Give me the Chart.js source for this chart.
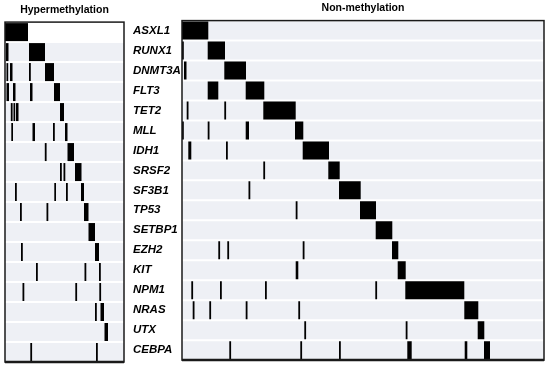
<!DOCTYPE html>
<html>
<head>
<meta charset="utf-8">
<script src="https://cdn.jsdelivr.net/npm/chart.js@4.4.1/dist/chart.umd.min.js"></script>
<style>
  html, body { margin: 0; padding: 0; background: #fff; }
  #wrap { position: relative; width: 550px; height: 367px; }
  canvas { position: absolute; top: 0; }
  #hyper { left: 0; }
  #non { left: 128px; }
</style>
</head>
<body>
<div id="wrap">
  <canvas id="hyper" width="128" height="367"></canvas>
  <canvas id="non" width="422" height="367"></canvas>
</div>
<script>
// genes, top to bottom
const genes = ['ASXL1', 'RUNX1', 'DNMT3A', 'FLT3', 'TET2', 'MLL', 'IDH1', 'SRSF2',
  'SF3B1', 'TP53', 'SETBP1', 'EZH2', 'KIT', 'NPM1', 'NRAS', 'UTX', 'CEBPA'];

// patient axis length for each group
const hyperSpan = 119;
const nonSpan = 362;

// mutated patient ranges [from, to] per gene, hypermethylation group
const hyperMutations = [
  [[0, 23]],
  [[1, 3.5], [24, 40]],
  [[1.5, 3.2], [5, 7.5], [24, 25.8], [40, 49]],
  [[1.5, 4], [8, 10.5], [25, 27.5], [49, 55]],
  [[5.8, 7.6], [8.5, 10.2], [11, 13.5], [55, 59]],
  [[6.3, 8], [27.5, 30], [48, 49.8], [60, 62.5]],
  [[39.8, 41.6], [62.5, 69]],
  [[55, 56.8], [58.5, 60.3], [70, 76.5]],
  [[10, 11.8], [49.3, 51], [61, 62.8], [76, 79]],
  [[15, 16.8], [41.5, 43.3], [79, 83.5]],
  [[83.5, 90]],
  [[16, 17.8], [90, 94]],
  [[31, 32.8], [79.5, 81.3], [94, 95.8]],
  [[17.5, 19.3], [70.3, 72.1], [94.3, 96.1]],
  [[90, 91.8], [95.5, 99]],
  [[99.5, 103]],
  [[25.3, 27.1], [91, 92.8]]
];

// mutated patient ranges [from, to] per gene, non-methylation group
const nonMutations = [
  [[0, 26.3]],
  [[0, 1.8], [25.7, 43]],
  [[2, 4.5], [42.3, 64]],
  [[25.7, 36.3], [63.7, 82.3]],
  [[4.7, 6.5], [42.3, 44.1], [81.3, 113.7]],
  [[0, 1.8], [25.7, 27.5], [63.7, 67], [113, 121.3]],
  [[6.3, 9.3], [44, 45.8], [120.7, 147]],
  [[81.3, 83.1], [146.3, 157.7]],
  [[66.5, 68.3], [157, 178.7]],
  [[113.7, 115.5], [178, 194]],
  [[193.7, 210.3]],
  [[36.3, 38.1], [45.3, 47.1], [120.7, 122.5], [210, 216.3]],
  [[113.7, 116.3], [215.7, 223.7]],
  [[9.3, 11.1], [38, 39.8], [83, 84.8], [193.3, 195.1], [223.3, 282.3]],
  [[10.7, 12.5], [27.3, 29.1], [63.7, 65.5], [116.3, 118.1], [282.3, 296.3]],
  [[122.3, 124.1], [223.7, 225.5], [295.7, 302.3]],
  [[47.3, 49.1], [118.3, 120.1], [157, 158.8], [225.3, 229.7], [282.7, 285.3], [302, 308]]
];

// box round the plot area, heavier at the bottom
const framePlugin = {
  id: 'frame',
  afterDatasetsDraw(chart) {
    const { ctx, chartArea: a } = chart;
    ctx.save();
    ctx.strokeStyle = '#1a1a1a';
    ctx.lineWidth = 1.5;
    ctx.strokeRect(a.left, a.top, a.right - a.left, a.bottom - a.top);
    ctx.lineWidth = 2.5;
    ctx.beginPath();
    ctx.moveTo(a.left, a.bottom);
    ctx.lineTo(a.right, a.bottom);
    ctx.stroke();
    ctx.restore();
  }
};

function makeChart(id, title, span, mutations, showLabels, padding, blankFirstRow) {
  const rows = genes.map(g => ({ y: g, x: [0, span] }));
  const marks = [];
  genes.forEach((g, i) => mutations[i].forEach(r => marks.push({ y: g, x: r })));

  const yAxis = {
    type: 'category',
    display: showLabels,
    grid: { display: false, drawTicks: false },
    border: { display: false },
    ticks: {
      crossAlign: 'far',
      padding: 0,
      color: '#000',
      font: { family: '"Liberation Sans", Arial, sans-serif', size: 11.5, weight: 'bold', style: 'italic' }
    }
  };
  if (showLabels) yAxis.afterFit = s => { s.width = 49; };

  return new Chart(document.getElementById(id), {
    type: 'bar',
    data: {
      labels: genes,
      datasets: [
        {
          data: marks,
          backgroundColor: '#000',
          grouped: false,
          order: 1,
          barPercentage: 0.9,
          categoryPercentage: 1
        },
        {
          data: rows,
          backgroundColor: ctx => (blankFirstRow && ctx.dataIndex === 0) ? '#fff' : '#eef0f5',
          grouped: false,
          order: 2,
          barPercentage: 0.9,
          categoryPercentage: 1
        }
      ]
    },
    options: {
      indexAxis: 'y',
      responsive: false,
      animation: false,
      devicePixelRatio: 1,
      layout: { padding },
      plugins: { legend: { display: false }, tooltip: { enabled: false } },
      scales: {
        x: {
          type: 'linear',
          position: 'top',
          min: 0,
          max: span,
          grid: { display: false, drawTicks: false },
          border: { display: false },
          ticks: { display: false },
          title: {
            display: true,
            text: title,
            color: '#000',
            font: { family: '"Liberation Sans", Arial, sans-serif', size: 10.5, weight: 'bold' },
            padding: { top: 2, bottom: 6 }
          }
        },
        y: yAxis
      }
    },
    plugins: [framePlugin]
  });
}

makeChart('hyper', 'Hypermethylation', hyperSpan, hyperMutations, false,
  { left: 5, right: 4, top: 1.5, bottom: 5 }, true);
makeChart('non', 'Non-methylation', nonSpan, nonMutations, true,
  { left: 5, right: 6, top: 0, bottom: 5 }, false);
</script>
</body>
</html>
